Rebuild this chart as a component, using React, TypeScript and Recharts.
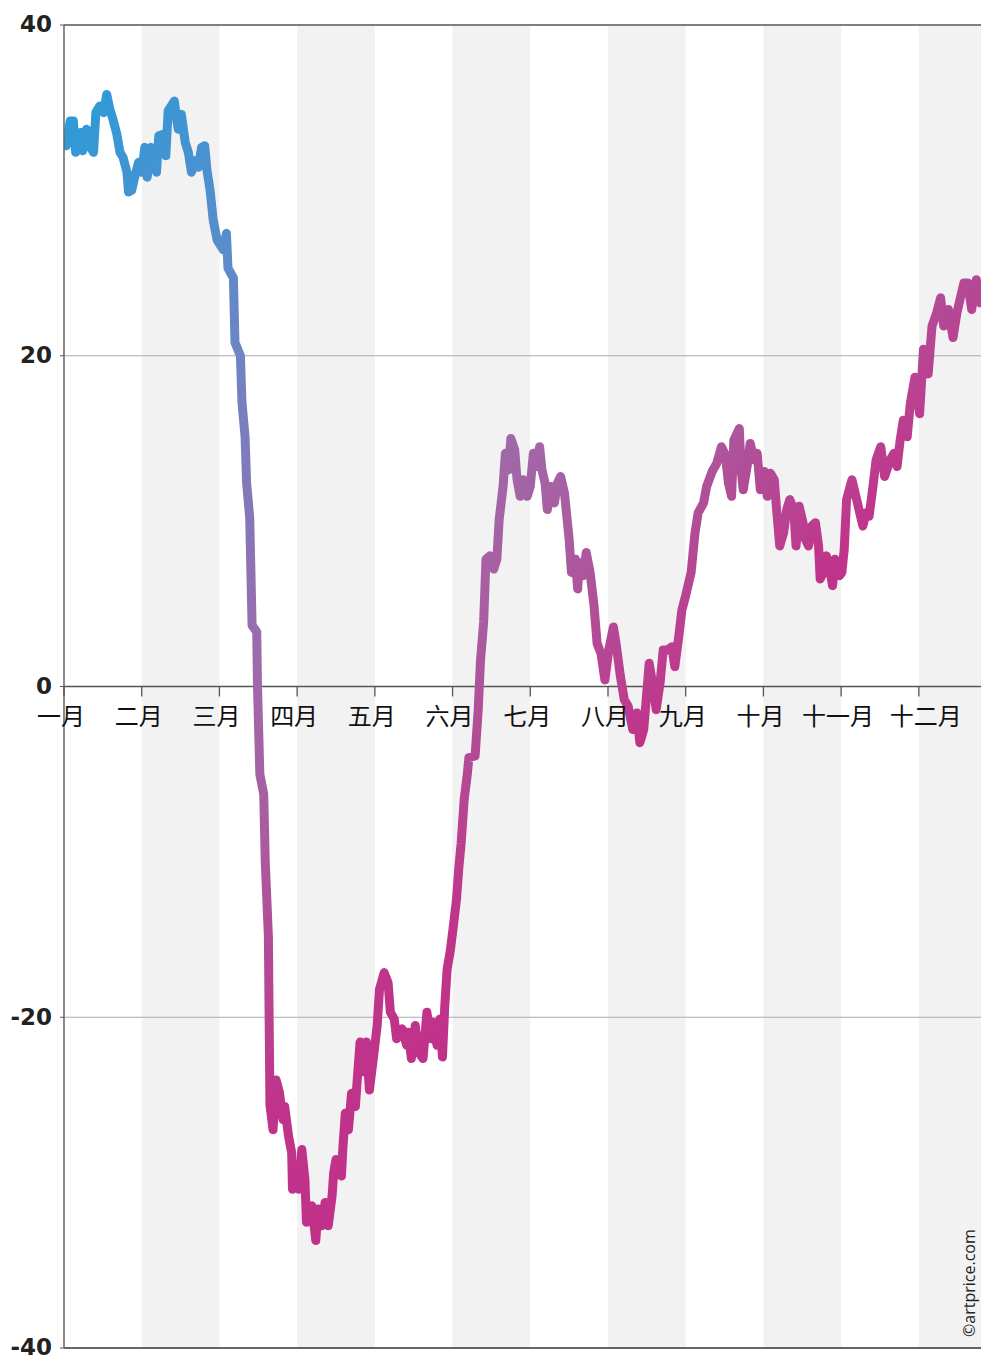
import { LineChart, Line, XAxis, YAxis, ReferenceArea, ReferenceLine } from 'recharts';

const W = 981;
const H = 1360;
const MARGIN = { top: 25, right: 0, bottom: 0, left: 0 };
const X_AXIS_H = 12;
const Y_MIN = -40;
const Y_MAX = 40;
const X_MAX = 11.8;

const monthLabels = ['一月', '二月', '三月', '四月', '五月', '六月', '七月', '八月', '九月', '十月', '十一月', '十二月'];
const yTicks = [-40, -20, 0, 20, 40];

// position along the year, in months from 1 Jan
const monthPos = [
  0.0, 0.03, 0.08, 0.12, 0.15, 0.21, 0.24, 0.29, 0.34, 0.38, 0.41, 0.46, 0.51, 0.55, 0.59, 0.63,
  0.68, 0.72, 0.76, 0.81, 0.83, 0.87, 0.91, 0.96, 1.0, 1.04, 1.07, 1.12, 1.15, 1.19, 1.22, 1.28,
  1.31, 1.34, 1.42, 1.45, 1.47, 1.51, 1.56, 1.6, 1.64, 1.69, 1.73, 1.77, 1.81, 1.84, 1.88, 1.92,
  1.97, 2.05, 2.09, 2.11, 2.18, 2.2, 2.27, 2.29, 2.33, 2.35, 2.39, 2.42, 2.48, 2.49, 2.52, 2.57,
  2.59, 2.63, 2.65, 2.69, 2.73, 2.77, 2.82, 2.84, 2.89, 2.93, 2.94, 2.99, 3.02, 3.06, 3.1, 3.12,
  3.19, 3.24, 3.27, 3.32, 3.36, 3.4, 3.45, 3.47, 3.5, 3.57, 3.59, 3.62, 3.66, 3.7, 3.75, 3.77,
  3.81, 3.86, 3.89, 3.93, 3.98, 4.03, 4.06, 4.12, 4.17, 4.2, 4.25, 4.28, 4.35, 4.41, 4.43, 4.47,
  4.52, 4.56, 4.62, 4.67, 4.72, 4.75, 4.8, 4.84, 4.87, 4.9, 4.93, 4.97, 5.01, 5.05, 5.08, 5.11,
  5.15, 5.19, 5.21, 5.29, 5.33, 5.36, 5.4, 5.43, 5.48, 5.53, 5.57, 5.6, 5.65, 5.68, 5.72, 5.75,
  5.8, 5.83, 5.87, 5.91, 5.96, 6.0, 6.04, 6.08, 6.12, 6.15, 6.19, 6.22, 6.26, 6.31, 6.35, 6.39,
  6.44, 6.47, 6.5, 6.53, 6.58, 6.61, 6.63, 6.68, 6.72, 6.77, 6.82, 6.86, 6.91, 6.96, 7.01, 7.07,
  7.11, 7.16, 7.21, 7.26, 7.32, 7.37, 7.41, 7.46, 7.53, 7.58, 7.62, 7.67, 7.71, 7.76, 7.82, 7.86,
  7.91, 7.95, 8.0, 8.07, 8.12, 8.16, 8.23, 8.27, 8.34, 8.4, 8.46, 8.51, 8.55, 8.59, 8.62, 8.69,
  8.71, 8.74, 8.79, 8.83, 8.88, 8.92, 8.96, 9.01, 9.05, 9.09, 9.14, 9.17, 9.21, 9.26, 9.3, 9.34,
  9.39, 9.42, 9.46, 9.51, 9.54, 9.58, 9.62, 9.67, 9.71, 9.73, 9.77, 9.81, 9.86, 9.89, 9.92, 9.98,
  10.01, 10.04, 10.07, 10.14, 10.2, 10.24, 10.28, 10.32, 10.36, 10.41, 10.45, 10.51, 10.56, 10.63, 10.68, 10.72,
  10.76, 10.8, 10.85, 10.89, 10.95, 11.01, 11.06, 11.12, 11.17, 11.23, 11.28, 11.32, 11.38, 11.44, 11.49, 11.53,
  11.58, 11.63, 11.68, 11.74, 11.79,
];

// index change (%)
const indexValues = [
  33.0, 32.7, 34.2, 34.2, 32.3, 33.5, 32.4, 33.7, 32.6, 32.3, 34.7, 35.1, 34.7, 35.8, 34.9, 34.3,
  33.4, 32.3, 32.0, 31.1, 29.9, 30.0, 30.8, 31.7, 31.1, 32.6, 30.8, 32.6, 31.8, 31.1, 33.3, 33.4,
  32.1, 34.8, 35.4, 34.3, 33.7, 34.6, 32.9, 32.3, 31.1, 31.8, 31.4, 32.6, 32.7, 31.2, 30.0, 28.2,
  27.0, 26.4, 27.4, 25.3, 24.7, 20.8, 20.0, 17.2, 15.1, 12.3, 10.2, 3.7, 3.3, 0.0, -5.3, -6.5,
  -10.6, -15.1, -25.3, -26.8, -23.8, -24.5, -26.2, -25.4, -27.2, -28.2, -30.4, -29.2, -30.4, -28.0, -29.8, -32.4,
  -31.4, -33.5, -31.6, -32.6, -31.2, -32.6, -30.8, -29.4, -28.6, -29.6, -27.8, -25.8, -26.8, -24.6, -25.4, -24.0,
  -21.5, -23.3, -21.5, -24.4, -22.5, -20.5, -18.3, -17.3, -17.9, -19.7, -20.1, -21.3, -20.7, -21.7, -20.9, -22.5,
  -20.5, -22.1, -22.5, -19.7, -21.3, -20.3, -21.7, -20.1, -22.4, -19.3, -17.1, -16.0, -14.5, -12.9, -11.0, -9.5,
  -6.8, -5.3, -4.3, -4.2, -1.4, 1.6, 3.9, 7.7, 7.9, 7.1, 7.7, 10.1, 12.1, 14.1, 13.1, 15.0,
  14.3, 12.5, 11.5, 12.5, 11.5, 12.1, 14.1, 13.3, 14.5, 13.1, 12.3, 10.7, 12.1, 11.1, 12.3, 12.7,
  11.7, 10.3, 8.9, 6.9, 7.7, 5.9, 7.5, 6.7, 8.1, 6.9, 4.9, 2.6, 2.0, 0.4, 2.2, 3.6,
  2.4, 0.6, -0.8, -1.2, -2.6, -1.6, -3.4, -2.6, 1.4, 0.0, -1.4, 0.2, 2.2, 2.2, 2.4, 1.2,
  3.0, 4.6, 5.5, 6.9, 9.3, 10.5, 11.1, 12.1, 13.0, 13.5, 14.5, 14.0, 12.3, 11.5, 14.9, 15.6,
  13.3, 11.9, 13.3, 14.7, 13.7, 14.1, 11.9, 13.0, 11.5, 12.9, 12.5, 10.7, 8.5, 9.3, 10.7, 11.3,
  10.7, 8.5, 10.9, 9.9, 8.9, 8.5, 9.7, 9.9, 8.5, 6.5, 6.9, 7.9, 6.9, 6.1, 7.7, 6.7,
  6.9, 8.3, 11.3, 12.5, 11.3, 10.5, 9.7, 10.5, 10.3, 12.1, 13.7, 14.5, 12.7, 13.7, 14.1, 13.3,
  14.9, 16.1, 15.1, 17.1, 18.7, 16.5, 20.4, 18.9, 21.8, 22.6, 23.5, 21.8, 22.8, 21.1, 22.6, 23.4,
  24.4, 24.4, 22.8, 24.6, 23.2,
];

const data = monthPos.map((m, i) => ({ m, v: indexValues[i] }));
const monthTicks = monthLabels.map((_, i) => i);
const shadedMonths = monthTicks.filter((i) => i % 2 === 1);

const PLOT_H = H - MARGIN.top - MARGIN.bottom - X_AXIS_H;
// distance from plot bottom up to the zero line
const ZERO_UP = (PLOT_H * (0 - Y_MIN)) / (Y_MAX - Y_MIN);

const MonthTick = (props: any) => {
  const { x, y, payload } = props;
  const y0 = y - ZERO_UP;
  const label = monthLabels[payload.value];
  const dx = payload.value === 11 ? 7 : -3;
  return (
    <g>
      <line x1={x} y1={y0} x2={x} y2={y0 + 10} stroke="#555" strokeWidth={1.3} />
      <text
        x={x + dx}
        y={y0 + 38}
        textAnchor="middle"
        fontSize={24}
        fill="#111"
        fontFamily="'Noto Sans CJK SC', 'Noto Sans', sans-serif"
      >
        {label}
      </text>
    </g>
  );
};

const ValueTick = (props: any) => {
  const { x, y, payload } = props;
  return (
    <text
      x={x}
      y={y - 1}
      dy="0.36em"
      textAnchor="end"
      fontSize={23}
      fontWeight={700}
      fill="#222"
      fontFamily="'DejaVu Sans', sans-serif"
    >
      {payload.value}
    </text>
  );
};

export default function App() {
  return (
    <div style={{ position: 'absolute', left: 0, top: 0, width: W, height: H, background: '#fff' }}>
      <LineChart width={W} height={H} data={data} margin={MARGIN}>
        <defs>
          <linearGradient id="lineGrad" x1="0" y1="0" x2="0.823" y2="1.069">
            <stop offset="0" stopColor="#2a9cd8" />
            <stop offset="0.16" stopColor="#5a8ccc" />
            <stop offset="0.22" stopColor="#6f84c4" />
            <stop offset="0.3" stopColor="#8478b8" />
            <stop offset="0.4" stopColor="#a068a8" />
            <stop offset="0.48" stopColor="#aa5ca0" />
            <stop offset="0.54" stopColor="#b34a96" />
            <stop offset="0.58" stopColor="#bb4090" />
            <stop offset="0.62" stopColor="#c0338a" />
            <stop offset="1" stopColor="#c2308a" />
          </linearGradient>
        </defs>
        {shadedMonths.map((i) => (
          <ReferenceArea
            key={i}
            x1={i}
            x2={Math.min(i + 1, X_MAX)}
            y1={Y_MIN}
            y2={Y_MAX}
            fill="#f2f2f2"
            fillOpacity={1}
            stroke="none"
          />
        ))}
        <ReferenceLine y={20} stroke="#aaa" strokeWidth={1} />
        <ReferenceLine y={-20} stroke="#aaa" strokeWidth={1} />
        <ReferenceLine y={40} stroke="#555" strokeWidth={1.3} />
        <ReferenceLine y={0} stroke="#555" strokeWidth={1.3} />
        <ReferenceLine y={-40} stroke="#333" strokeWidth={1.5} />
        <XAxis
          dataKey="m"
          type="number"
          domain={[0, X_MAX]}
          ticks={monthTicks}
          allowDataOverflow
          height={X_AXIS_H}
          axisLine={false}
          tickLine={false}
          tickSize={0}
          tickMargin={0}
          tick={<MonthTick />}
          interval={0}
        />
        <YAxis
          type="number"
          domain={[Y_MIN, Y_MAX]}
          ticks={yTicks}
          width={64}
          axisLine={{ stroke: '#666', strokeWidth: 1.5 }}
          tickLine={{ stroke: '#555' }}
          tickSize={4}
          tickMargin={8}
          tick={<ValueTick />}
          interval={0}
        />
        <Line
          type="linear"
          dataKey="v"
          stroke="url(#lineGrad)"
          strokeWidth={9}
          strokeLinejoin="round"
          strokeLinecap="round"
          dot={false}
          activeDot={false}
          isAnimationActive={false}
        />
      </LineChart>
      <svg width={W} height={H} style={{ position: 'absolute', left: 0, top: 0, pointerEvents: 'none' }}>
        <text
          transform="translate(975,1337) rotate(-90)"
          fontSize={16}
          fill="#222"
          fontFamily="'Open Sans', 'Noto Sans', sans-serif"
        >
          ©artprice.com
        </text>
      </svg>
    </div>
  );
}
